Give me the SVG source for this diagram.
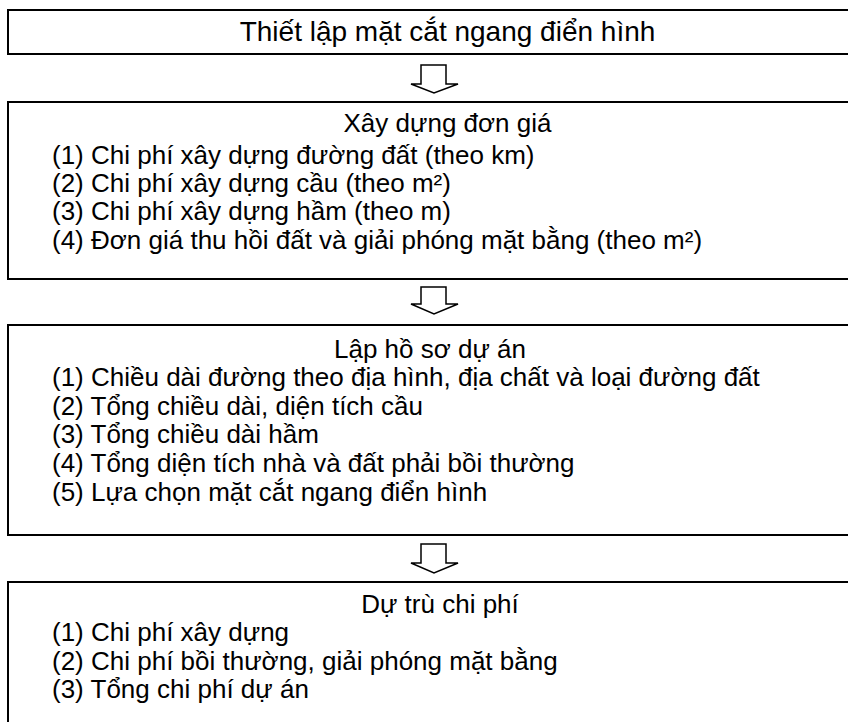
<svg xmlns="http://www.w3.org/2000/svg" width="848" height="722" viewBox="0 0 848 722">
<style>
.box{fill:#fff;stroke:#000;stroke-width:2}
.arr{fill:#fff;stroke:#000;stroke-width:1.5;stroke-linejoin:miter}
text{font-family:"Liberation Sans",Arial,sans-serif;font-size:26px;fill:#000}
.t{font-size:28px}
.c{text-anchor:middle}
</style>
<rect width="848" height="722" fill="#fff"/>
<g id="connectors">
<path class="arr" d="M421,65 H446 V84 H458 L434,93 L411,84 H421 Z"/>
<path class="arr" d="M421,287 H446 V304 H458 L434,314 L411,304 H421 Z"/>
<path class="arr" d="M421,544 H446 V563 H458 L434,573 L411,563 H421 Z"/>
</g>
<g id="node1">
<rect class="box" x="8" y="10" width="850" height="44"/>
<text class="c t" x="447.5" y="41">Thiết lập mặt cắt ngang điển hình</text>
</g>
<g id="node2">
<rect class="box" x="8" y="102" width="850" height="177"/>
<text class="c" x="447.5" y="132">Xây dựng đơn giá</text>
<text x="52" y="164">(1) Chi phí xây dựng đường đất (theo km)</text>
<text x="52" y="192">(2) Chi phí xây dựng cầu (theo m²)</text>
<text x="52" y="220">(3) Chi phí xây dựng hầm (theo m)</text>
<text x="52" y="249">(4) Đơn giá thu hồi đất và giải phóng mặt bằng (theo m²)</text>
</g>
<g id="node3">
<rect class="box" x="8" y="325" width="850" height="210"/>
<text class="c" x="430" y="358">Lập hồ sơ dự án</text>
<text x="52" y="386">(1) Chiều dài đường theo địa hình, địa chất và loại đường đất</text>
<text x="52" y="415">(2) Tổng chiều dài, diện tích cầu</text>
<text x="52" y="443">(3) Tổng chiều dài hầm</text>
<text x="52" y="472">(4) Tổng diện tích nhà và đất phải bồi thường</text>
<text x="52" y="501">(5) Lựa chọn mặt cắt ngang điển hình</text>
</g>
<g id="node4">
<rect class="box" x="8" y="582" width="850" height="160"/>
<text class="c" x="440" y="613">Dự trù chi phí</text>
<text x="52" y="641">(1) Chi phí xây dựng</text>
<text x="52" y="670">(2) Chi phí bồi thường, giải phóng mặt bằng</text>
<text x="52" y="698">(3) Tổng chi phí dự án</text>
</g>
</svg>
